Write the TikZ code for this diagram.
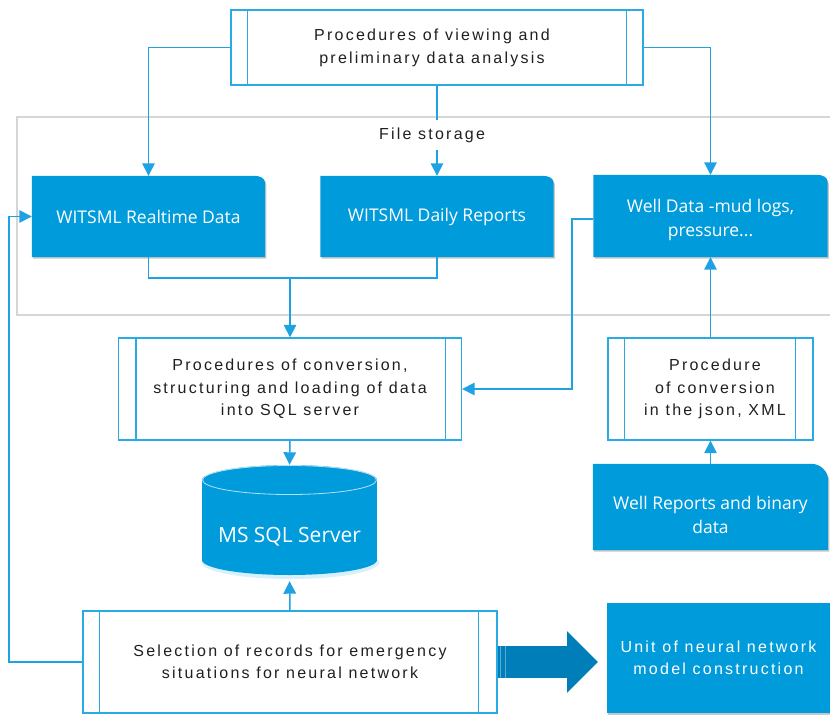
\documentclass[tikz,border=0pt]{standalone}
\usepackage{fontspec}
\setmainfont{Liberation Sans}
\newfontfamily\procfont[LetterSpace=14]{Liberation Sans}
\newfontfamily\segfont{Open Sans}
\usetikzlibrary{arrows.meta,calc,backgrounds,shadows}
\pgfdeclarelayer{bottom}
\pgfsetlayers{bottom,background,main}
\definecolor{boxblue}{RGB}{0,155,219}
\definecolor{lineblue}{RGB}{30,162,226}
\definecolor{procblue}{RGB}{40,170,228}
\definecolor{arrowblue}{RGB}{0,126,186}
\definecolor{framegray}{RGB}{214,214,214}
\definecolor{txtgray}{RGB}{32,32,32}
\tikzset{
  conn/.style={draw=lineblue, line width=1.5pt, -{Triangle[length=12.5pt,width=12.5pt]}},
  plainline/.style={draw=lineblue, line width=1.5pt},
  procbox/.style={draw=procblue, line width=1.3pt, fill=white, inner sep=0pt, align=center,
    text=txtgray, font=\procfont\fontsize{16}{22.5}\selectfont},
  procline/.style={draw=procblue, line width=1.3pt},
  docarea/.style={inner sep=0pt, align=center, text=white, font=\segfont\fontsize{17.5}{24.5}\selectfont},
  docfill/.style={fill=boxblue, drop shadow={shadow xshift=1.2pt, shadow yshift=-1.5pt, opacity=0.22, fill=black}},
}
\newcommand{\foldpath}[1]{(#1.south west) -- (#1.north west) -- ($(#1.north east)+(-12,0)$) .. controls ($(#1.north east)+(-5,0)$) and ($(#1.north east)+(0,2)$) .. ($(#1.north east)+(0,8)$) -- (#1.south east) -- cycle}
\newcommand{\innerlines}[3]{\draw[procline] ([xshift=#2pt]#1.north west) -- ([xshift=#2pt]#1.south west);
  \draw[procline] ([xshift=-#3pt]#1.north east) -- ([xshift=-#3pt]#1.south east);}
\begin{document}
\begin{tikzpicture}[x=1pt,y=-1pt]
\useasboundingbox (0,0) rectangle (830,715);
\begin{pgfonlayer}{bottom}
\fill[white] (0,0) rectangle (830,715);
\end{pgfonlayer}

% file storage frame
\draw[framegray, line width=1.2pt] (17,117) rectangle (845,315);

% nodes
\node[procbox, minimum width=412pt, minimum height=75pt] (top) at (437,47.5) {};
\innerlines{top}{17}{17}
\node[text=txtgray, font=\procfont\fontsize{16}{22.5}\selectfont, align=center, inner sep=0pt] (toptxt) at (432,48) {Procedures of viewing and\\preliminary data analysis};

\node[docarea, minimum width=233pt, minimum height=81pt] (rt) at (148.5,216.5) {WITSML Realtime Data};
\node[docarea, minimum width=233pt, minimum height=81pt] (daily) at (437,216.5) {WITSML Daily Reports};
\node[docarea, minimum width=234pt, minimum height=82pt] (wd) at (710.5,216) {};
\node[docarea] (wdtxt) at (710.5,220) {Well Data -mud logs,\\pressure...};

\node[procbox, minimum width=343pt, minimum height=102pt] (conv) at (290,389) {Procedures of conversion,\\structuring and loading of data\\into SQL server};
\innerlines{conv}{18}{17}
\node[procbox, minimum width=205pt, minimum height=102pt] (json) at (710.5,389) {};
\innerlines{json}{17}{18}
\node[text=txtgray, font=\procfont\fontsize{16}{22.5}\selectfont, align=center, inner sep=0pt] (jsontxt) at (715,389) {Procedure\\of conversion\\in the json, XML};

\node[docarea, minimum width=235pt, minimum height=86pt] (wrep) at (710.5,507) {};

\node[inner sep=0pt, minimum width=175pt, minimum height=110pt] (sql) at (289.5,520) {};

\node[procbox, minimum width=414pt, minimum height=102pt] (sel) at (290,662) {Selection of records for emergency\\situations for neural network};
\innerlines{sel}{17}{19}

\node[docarea, font=\procfont\fontsize{16}{22}\selectfont, minimum width=223pt, minimum height=110pt] (unit) at (718.5,658) {Unit of neural network\\model construction};

% filled shapes behind
\begin{scope}[on background layer]
  \fill[docfill] \foldpath{rt};
  \fill[docfill] \foldpath{daily};
  \fill[docfill] \foldpath{wd};
  \fill[docfill] (wrep.south west) -- (wrep.north west) -- ($(wrep.north east)+(-17,0)$)
     .. controls ($(wrep.north east)+(-7.6,0)$) and ($(wrep.north east)+(0,7.6)$) .. ($(wrep.north east)+(0,17)$)
     -- (wrep.south east) -- cycle;
  \fill[docfill] (unit.south west) rectangle (unit.north east);
\end{scope}

% cylinder
\fill[boxblue!25, opacity=0.6] (290.5,562.5) ellipse [x radius=88.5pt, y radius=16.5pt];
\fill[boxblue] (202,480) rectangle (377,560);
\fill[boxblue] (289.5,560) ellipse [x radius=87.5pt, y radius=15pt];
\fill[boxblue] (289.5,480) ellipse [x radius=87.5pt, y radius=15pt];
\draw[white, opacity=0.7, line width=0.8pt] (289.5,480) ellipse [x radius=87pt, y radius=14.5pt];
\node[text=white, font=\segfont\fontsize{21}{25}\selectfont, inner sep=0pt] (sqltxt) at (289.5,537) {MS SQL Server};

\node[docarea] (wreptxt) at (710.5,515) {Well Reports and binary\\data};

% connectors
\draw[conn] (top.west) -| (rt.north);
\draw[conn] (top.south) -- (daily.north);
\draw[conn] (top.east) -| (wd.north);
\coordinate (merge) at (290,278);
\draw[plainline] (rt.south) |- (merge) -| (daily.south);
\draw[conn] (merge) -- (conv.north);
\coordinate (wdbend) at (572,219);
\draw[conn] (wd.west |- wdbend) -- (wdbend) |- (conv.east);
\draw[conn] (conv.south) -- (sql.north);
\draw[conn, shorten >=6pt] (sel.north) -- (sql.south);
\coordinate (fb) at (9,662);
\draw[conn] (sel.west) -- (fb) |- (rt.west);
\draw[conn] (json.north) -- (wd.south);
\draw[conn] (wrep.north) -- (json.south);

% big arrow
\coordinate (bigtip) at (598,662);
\draw[draw=arrowblue, line width=32pt, -{Triangle[length=31pt,width=60pt]}] (sel.east) -- (bigtip);
\draw[white, opacity=0.35, line width=0.8pt] (500.5,646) -- (500.5,678);
\draw[white, opacity=0.35, line width=0.8pt] (505.5,646) -- (505.5,678);

% file storage label
\node[fill=white, inner sep=3pt, minimum height=30pt, font=\procfont\fontsize{16}{20}\selectfont, text=txtgray] (fs) at (432,135) {File storage};
\end{tikzpicture}
\end{document}
